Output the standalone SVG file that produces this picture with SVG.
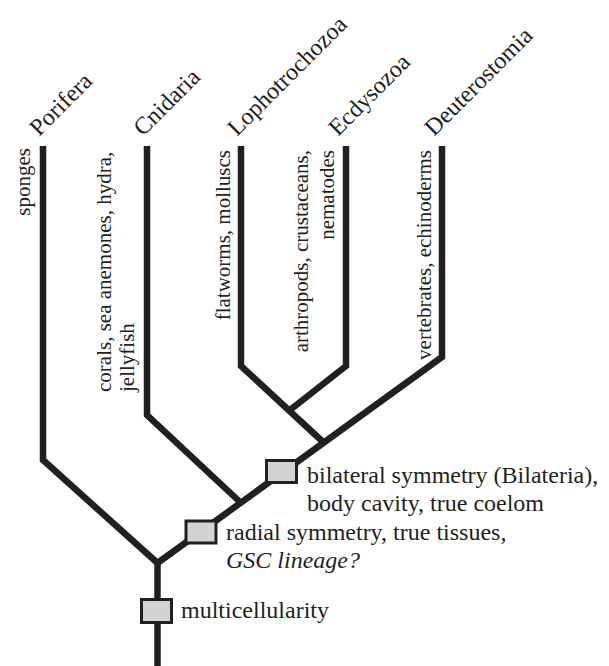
<svg xmlns="http://www.w3.org/2000/svg" width="609" height="666" viewBox="0 0 609 666">
<style>
.br{fill:none;stroke:#231f20;stroke-width:6.5;stroke-linejoin:miter;stroke-miterlimit:10}
.box{fill:#d1d3d4;stroke:#231f20;stroke-width:3}
.t{font-family:"Liberation Serif","Times New Roman",serif;fill:#231f20}
.tax{font-size:24px}
.side{font-size:21px}
.trait{font-size:24px}
</style>
<rect width="609" height="666" fill="#fff"/>
<g id="connectors">
<path class="br" d="M43,146 V460 L157.5,563"/>
<path class="br" d="M157.5,563 V666"/>
<path class="br" d="M157.5,563 L442,357 V146"/>
<path class="br" d="M147,146 V415 L240,502"/>
<path class="br" d="M241,146 V366 L322,441"/>
<path class="br" d="M346,146 V366 L290,410"/>
</g>
<g id="porifera">
<text class="t tax" transform="translate(39,137) rotate(-45)">Porifera</text>
<text class="t side" text-anchor="end" transform="translate(30,148) rotate(-90)">sponges</text>
</g>
<g id="cnidaria">
<text class="t tax" transform="translate(143,137) rotate(-45)">Cnidaria</text>
<text class="t side" transform="translate(111,392) rotate(-90)">corals, sea anemones, hydra,<tspan x="0" dy="23">jellyfish</tspan></text>
</g>
<g id="lophotrochozoa">
<text class="t tax" transform="translate(237,137) rotate(-45)">Lophotrochozoa</text>
<text class="t side" text-anchor="end" transform="translate(230,150) rotate(-90)">flatworms, molluscs</text>
</g>
<g id="ecdysozoa">
<text class="t tax" transform="translate(338,137) rotate(-45)">Ecdysozoa</text>
<text class="t side" text-anchor="end" transform="translate(308,150) rotate(-90)">arthropods, crustaceans,<tspan x="0" dy="26">nematodes</tspan></text>
</g>
<g id="deuterostomia">
<text class="t tax" transform="translate(434,137) rotate(-45)">Deuterostomia</text>
<text class="t side" text-anchor="end" transform="translate(431,150) rotate(-90)">vertebrates, echinoderms</text>
</g>
<g id="multicellularity">
<rect class="box" x="141.5" y="599.5" width="30" height="23"/>
<text class="t trait" x="181" y="618">multicellularity</text>
</g>
<g id="radial">
<rect class="box" x="186" y="521" width="30" height="22"/>
<text class="t trait" x="226" y="540">radial symmetry, true tissues,</text>
<text class="t trait" x="226" y="568" font-style="italic">GSC lineage?</text>
</g>
<g id="bilateral">
<rect class="box" x="266.5" y="460.5" width="30" height="22"/>
<text class="t trait" x="307" y="483">bilateral symmetry (Bilateria),</text>
<text class="t trait" x="307" y="511">body cavity, true coelom</text>
</g>
</svg>
